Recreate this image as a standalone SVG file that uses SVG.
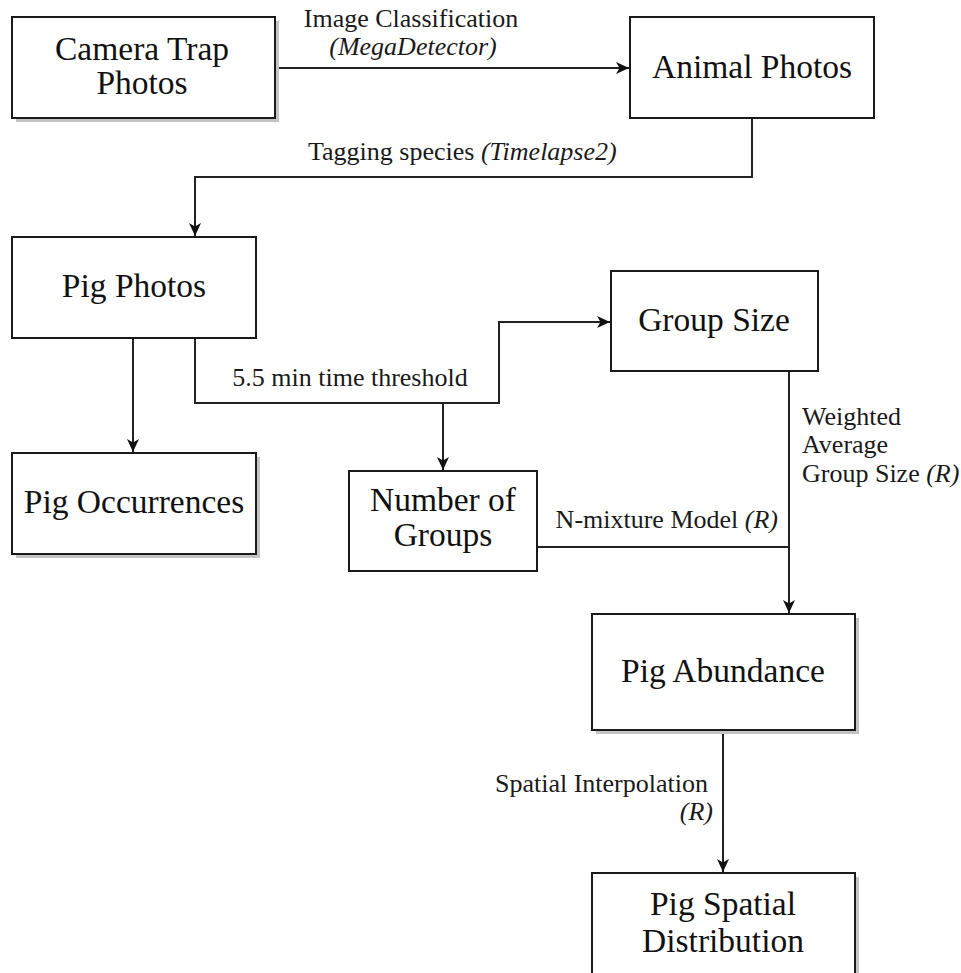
<svg xmlns="http://www.w3.org/2000/svg" width="961" height="973" viewBox="0 0 961 973">
<style>
.box{fill:#fff;stroke:#1a1a1a;stroke-width:2}
.sh{fill:#c4c4c4}
.nt{font-family:"Liberation Serif","Times New Roman",serif;font-size:33.5px;fill:#111;text-anchor:middle}
.lb{font-family:"Liberation Serif","Times New Roman",serif;font-size:26px;fill:#1a1a1a}
.it{font-style:italic}
.ln{fill:none;stroke:#222;stroke-width:2}
</style>
<defs>
<marker id="ah" markerWidth="14" markerHeight="12" refX="13" refY="6" orient="auto" markerUnits="userSpaceOnUse">
<path d="M0,0 L13,6 L0,12 L3.5,6 z" fill="#111"/>
</marker>
</defs>
<rect width="961" height="973" fill="#fff"/>
<g id="connectors">
<path class="ln" d="M275,68 L629,68" marker-end="url(#ah)"/>
<path class="ln" d="M752,118 L752,177 L195,177 L195,236" marker-end="url(#ah)"/>
<path class="ln" d="M133,338 L133,452" marker-end="url(#ah)"/>
<path class="ln" d="M195,338 L195,403 L499,403 L499,322 L610,322" marker-end="url(#ah)"/>
<path class="ln" d="M443,403 L443,470" marker-end="url(#ah)"/>
<path class="ln" d="M789,371 L789,613" marker-end="url(#ah)"/>
<path class="ln" d="M537,547 L789,547"/>
<path class="ln" d="M723,730 L723,872" marker-end="url(#ah)"/>
</g>
<g id="labels">
<text class="lb" x="411" y="27" text-anchor="middle">Image Classification</text>
<text class="lb it" x="413" y="55" text-anchor="middle">(MegaDetector)</text>
<text class="lb" x="308" y="160">Tagging species <tspan class="it">(Timelapse2)</tspan></text>
<text class="lb" x="350" y="386" text-anchor="middle">5.5 min time threshold</text>
<text class="lb" x="778" y="528" text-anchor="end">N-mixture Model <tspan class="it">(R)</tspan></text>
<text class="lb" x="802" y="425">Weighted</text>
<text class="lb" x="802" y="453">Average</text>
<text class="lb" x="802" y="482">Group Size <tspan class="it">(R)</tspan></text>
<text class="lb" x="708" y="792" text-anchor="end">Spatial Interpolation</text>
<text class="lb it" x="713" y="820" text-anchor="end">(R)</text>
</g>
<g id="camera-trap-photos">
<rect class="sh" x="16" y="21" width="263" height="101"/>
<rect class="box" x="12" y="17" width="263" height="101"/>
<text class="nt" x="142" y="60">Camera Trap</text>
<text class="nt" x="142" y="94">Photos</text>
</g>
<g id="animal-photos">
<rect class="box" x="630" y="17" width="244" height="101"/>
<text class="nt" x="752" y="78">Animal Photos</text>
</g>
<g id="pig-photos">
<rect class="box" x="12" y="237" width="244" height="101"/>
<text class="nt" x="134" y="297">Pig Photos</text>
</g>
<g id="pig-occurrences">
<rect class="sh" x="16" y="457" width="244" height="101"/>
<rect class="box" x="12" y="453" width="244" height="101"/>
<text class="nt" x="134" y="513">Pig Occurrences</text>
</g>
<g id="number-of-groups">
<rect class="box" x="349" y="471" width="188" height="100"/>
<text class="nt" x="443" y="511">Number of</text>
<text class="nt" x="443" y="546">Groups</text>
</g>
<g id="group-size">
<rect class="box" x="611" y="271" width="207" height="100"/>
<text class="nt" x="714" y="331">Group Size</text>
</g>
<g id="pig-abundance">
<rect class="sh" x="596" y="618" width="263" height="116"/>
<rect class="box" x="592" y="614" width="263" height="116"/>
<text class="nt" x="723" y="682">Pig Abundance</text>
</g>
<g id="pig-spatial-distribution">
<rect class="sh" x="596" y="877" width="263" height="110"/>
<rect class="box" x="592" y="873" width="263" height="110"/>
<text class="nt" x="723" y="915">Pig Spatial</text>
<text class="nt" x="723" y="952">Distribution</text>
</g>
</svg>
